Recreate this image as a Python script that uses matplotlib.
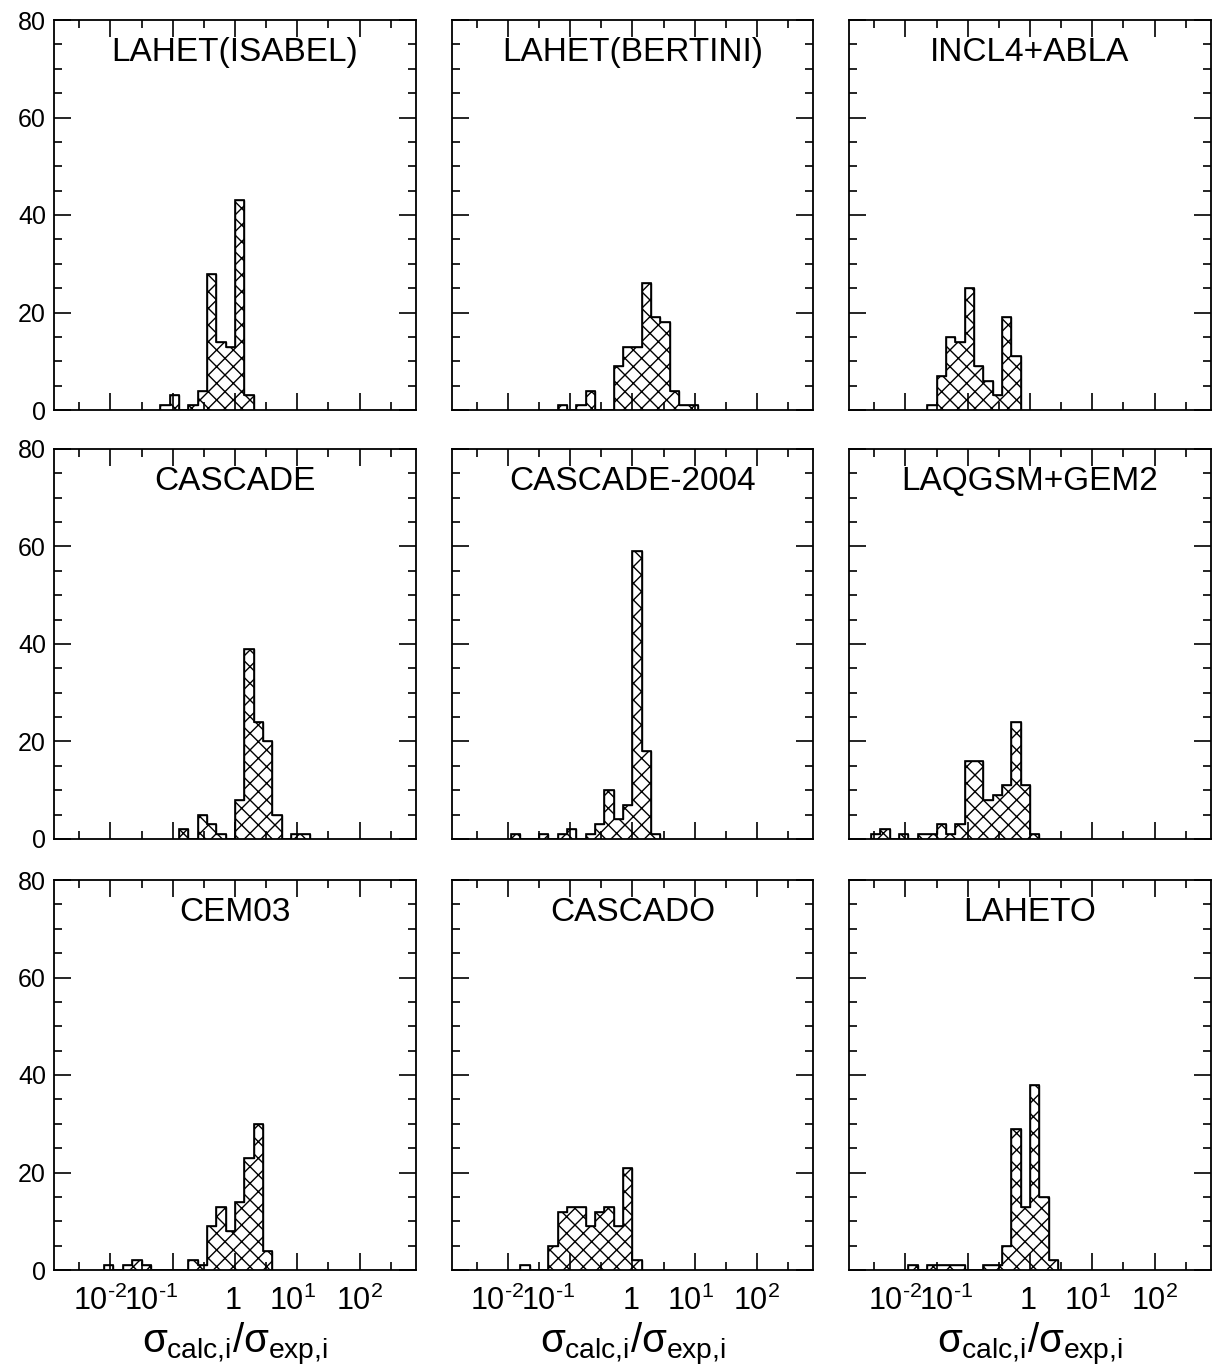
import numpy as np
import matplotlib
matplotlib.use("Agg")
import matplotlib.pyplot as plt
from matplotlib.ticker import MultipleLocator, NullFormatter

plt.rcParams['font.family'] = ['Liberation Sans', 'DejaVu Sans']
plt.rcParams['mathtext.fontset'] = 'custom'
plt.rcParams['mathtext.rm'] = 'Liberation Sans'
plt.rcParams['mathtext.it'] = 'Liberation Sans'
plt.rcParams['mathtext.bf'] = 'Liberation Sans:bold'
plt.rcParams['hatch.linewidth'] = 1.0

# histogram bins are 0.15 wide in log10(sigma_calc/sigma_exp); bin k spans [0.15k, 0.15(k+1)]
BIN_W = 0.15

titles = ["LAHET(ISABEL)", "LAHET(BERTINI)", "INCL4+ABLA",
          "CASCADE", "CASCADE-2004", "LAQGSM+GEM2",
          "CEM03", "CASCADO", "LAHETO"]

# index of first bin for each panel
first_bin = [-8, -8, -11,
             -6, -13, -17,
             -14, -12, -13]

# counts per bin, starting at first_bin
counts = [
    [1, 3, 0, 1, 4, 28, 14, 13, 43, 3],
    [1, 0, 1, 4, 0, 0, 9, 13, 13, 26, 19, 18, 4, 1, 1],
    [1, 7, 15, 14, 25, 9, 6, 3, 19, 11],
    [2, 0, 5, 3, 1, 0, 8, 39, 24, 20, 5, 0, 1, 1],
    [1, 0, 0, 1, 0, 1, 2, 0, 1, 3, 10, 4, 7, 59, 18, 1],
    [1, 2, 0, 1, 0, 1, 1, 3, 1, 3, 16, 16, 8, 9, 11, 24, 11, 1],
    [1, 0, 1, 2, 1, 0, 0, 0, 0, 2, 1, 9, 13, 8, 14, 23, 30, 4],
    [1, 0, 0, 5, 12, 13, 13, 9, 12, 13, 9, 21, 2],
    [1, 0, 1, 1, 1, 1, 0, 0, 1, 1, 5, 29, 13, 38, 15, 2],
]

xtick_text = [r"$10^{\text{-}2}$", r"$10^{\text{-}1}$", r"$1$", r"$10^{1}$", r"$10^{2}$"]
xtick_text_pos = [-2.17, -1.35, -0.03, 0.93, 2.0]   # where the labels sit (log10)
ytick_vals = [0, 20, 40, 60, 80]

W, H = 1213, 1369
fig = plt.figure(figsize=(W / 100, H / 100), dpi=100)

col_left = [54.3, 451.7, 849.3]
ax_w = 361.4
row_top = [20, 449, 880]
ax_h = 390

for i in range(9):
    r, c = divmod(i, 3)
    ax = fig.add_axes([col_left[c] / W, 1 - (row_top[r] + ax_h) / H, ax_w / W, ax_h / H])

    k = np.arange(first_bin[i], first_bin[i] + len(counts[i]) + 1)
    edges = k * BIN_W
    ax.stairs(counts[i], edges, fill=True, facecolor='white', edgecolor='black',
              hatch='xx', linewidth=1.0)
    ax.stairs(counts[i], edges, fill=False, edgecolor='black', linewidth=1.2)

    ax.set_xlim(-2.9, 2.9)
    ax.set_ylim(0, 80)

    ax.xaxis.set_major_locator(MultipleLocator(1))
    ax.xaxis.set_minor_locator(MultipleLocator(0.5))
    ax.yaxis.set_major_locator(MultipleLocator(20))
    ax.yaxis.set_minor_locator(MultipleLocator(5))
    ax.tick_params(which='both', direction='in', top=True, right=True, width=1.2)
    ax.tick_params(which='major', length=12)
    ax.tick_params(which='minor', length=6)
    ax.xaxis.set_major_formatter(NullFormatter())

    for sp in ax.spines.values():
        sp.set_linewidth(1.3)

    if c == 0:
        ax.set_yticks(ytick_vals)
        ax.set_yticklabels([str(v) for v in ytick_vals], fontsize=18)
        ax.tick_params(axis='y', which='major', pad=6)
    else:
        ax.yaxis.set_major_formatter(NullFormatter())

    ax.text(0.5, 0.917, titles[i], transform=ax.transAxes, ha='center', va='center',
            fontsize=24)

    if r == 2:
        for t, xp in zip(xtick_text, xtick_text_pos):
            ax.text(xp, -0.04, t, transform=ax.get_xaxis_transform(),
                    ha='center', va='top', fontsize=22)
        ax.text(0.5, -0.13, r"$\sigma_{\text{calc,i}}/\sigma_{\text{exp,i}}$",
                transform=ax.transAxes, ha='center', va='top', fontsize=29)

fig.savefig("out.png", dpi=100)
